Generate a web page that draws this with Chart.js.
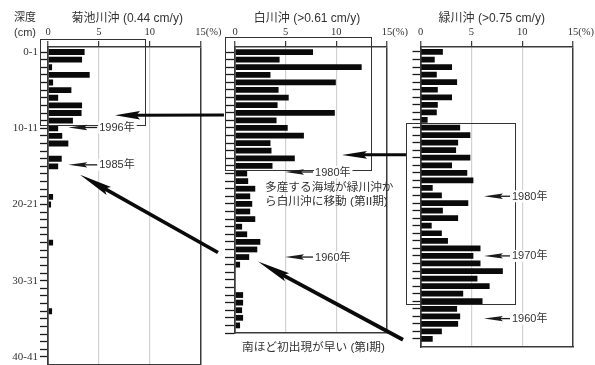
<!DOCTYPE html>
<html>
<head>
<meta charset="utf-8">
<script src="https://cdn.jsdelivr.net/npm/chart.js@4.4.0/dist/chart.umd.min.js"></script>
<style>
  html, body { margin: 0; padding: 0; background: #fff; }
  #wrap { position: relative; width: 595px; height: 365px; overflow: hidden; background: #fff; }
  #wrap canvas { position: absolute; left: 0; top: 0; }
</style>
</head>
<body>
<div id="wrap">
  <canvas id="c1" width="595" height="365"></canvas>
  <canvas id="c2" width="595" height="365"></canvas>
  <canvas id="c3" width="595" height="365"></canvas>
</div>
<script>
// ---- data: relative abundance (%) per 1 cm core slice, top (0-1 cm) downward ----
const siteTitles = ['菊池川沖 (0.44 cm/y)', '白川沖 (>0.61 cm/y)', '緑川沖 (>0.75 cm/y)'];
const depthTickLabels = ['0-1', '10-11', '20-21', '30-31', '40-41'];
const percentTicks = [0, 5, 10, 15];

const kikuchi = [
  3.6, 3.35, 0.4, 4.1, 0.5, 2.3, 1.0, 3.35, 3.3, 2.45,
  1.0, 1.4, 2.0, 0, 1.35, 1.0, 0, 0, 0, 0.5,
  0.3, 0, 0, 0, 0, 0.5, 0, 0, 0, 0,
  0, 0, 0, 0, 0.4, 0, 0, 0, 0, 0,
  0
];
const shirakawa = [
  7.7, 4.4, 12.5, 3.5, 9.95, 4.3, 5.3, 4.2, 9.85, 4.1,
  5.2, 6.8, 3.5, 3.6, 5.9, 3.7, 1.2, 1.3, 2.0, 1.5,
  1.7, 1.5, 2.0, 0.7, 1.2, 2.5, 2.2, 1.4, 0.5, 0,
  0, 0, 0.8, 0.8, 0.7, 0.8, 0.5, 0
];
const midorikawa = [
  2.2, 1.4, 3.1, 1.6, 3.6, 1.7, 3.1, 1.7, 1.6, 0.7,
  3.9, 4.9, 3.7, 3.5, 4.9, 3.1, 4.6, 5.2, 1.2, 2.1,
  4.7, 2.2, 3.7, 1.1, 2.1, 2.7, 5.9, 5.2, 5.9, 8.1,
  5.6, 6.8, 4.2, 6.1, 3.6, 3.9, 3.7, 2.1, 1.2
];
const siteValues = [kikuchi, shirakawa, midorikawa];

// dated horizons: panel index, depth (slice index), label
const horizons = [
  { panel: 0, row: 9.9,  label: '1996年' },
  { panel: 0, row: 14.8, label: '1985年' },
  { panel: 1, row: 15.8, label: '1980年' },
  { panel: 1, row: 27.0, label: '1960年' },
  { panel: 2, row: 19.1, label: '1980年' },
  { panel: 2, row: 27.0, label: '1970年' },
  { panel: 2, row: 35.3, label: '1960年' }
];

// ---- layout / styling ----
const SANS = '"Liberation Sans", "Noto Sans CJK JP", sans-serif';
const SERIF = '"Liberation Serif", "DejaVu Serif", serif';
const INK = '#333';
const W = 595, H = 365, TOP = 47;

const panelLayout = [
  { id: 'c1', left: 48,    right: 200.5, bottom: 365, axisWidth: 48, tickLen: 8,  yMin: -0.656, yMax: 41.05, titleDx: 3,  showDepth: true },
  { id: 'c2', left: 235,   right: 387,   bottom: 333, axisWidth: 10, tickLen: 10, yMin: -0.66,  yMax: 37,    titleDx: -4, showDepth: false },
  { id: 'c3', left: 420.5, right: 573,   bottom: 347, axisWidth: 8,  tickLen: 8,  yMin: -0.66,  yMax: 39.06, titleDx: -5, showDepth: false }
];

// horizon arrow extent in each panel (% units): tip and tail
const horizonArrow = [ { tip: 2.0, tail: 4.84 }, { tip: 4.94, tail: 7.7 }, { tip: 6.24, tail: 8.8 } ];

// highlighted intervals (panel, % range, slice range)
const boxes = [
  { panel: 0, x0: -0.8, x1: 9.55, r0: -1.7, r1: 9.6 },
  { panel: 1, x0: -1.0, x1: 13.4, r0: -2.0, r1: 15.5 },
  { panel: 2, x0: -1.43, x1: 9.3, r0: 9.4,  r1: 33.4 }
];

// arrows linking intervals between sites: [panel, %, slice]
const transfers = [
  { from: [1, -1.09, 8.3],  to: [0, 6.59, 8.3],   lw: 3.0, hl: 25, hw: 4.2 },
  { from: [2, -1.43, 13.6], to: [1, 10.56, 13.55], lw: 3.0, hl: 25, hw: 3.8 },
  { from: [1, -1.68, 26.4], to: [0, 3.15, 16.1],  lw: 3.6, hl: 33, hw: 4.6 },
  { from: [2, -1.72, 38.1], to: [1, 2.27, 27.6],  lw: 3.8, hl: 33, hw: 4.6 }
];

const notes = [
  { panel: 1, x: 2.96, row: 17.9,  text: '多産する海域が緑川沖か' },
  { panel: 1, x: 2.96, row: 19.75, text: 'ら白川沖に移動 (第II期)' },
  { panel: 1, x: 0.69, row: 38.98, text: '南ほど初出現が早い (第I期)' }
];

function drawArrow(ctx, x0, y0, x1, y1, lw, hl, hw) {
  const a = Math.atan2(y1 - y0, x1 - x0);
  const c = Math.cos(a), s = Math.sin(a);
  ctx.lineWidth = lw;
  ctx.lineCap = 'butt';
  ctx.beginPath();
  ctx.moveTo(x0, y0);
  ctx.lineTo(x1 - c * hl * 0.7, y1 - s * hl * 0.7);
  ctx.stroke();
  const bx = x1 - c * hl, by = y1 - s * hl;
  ctx.beginPath();
  ctx.moveTo(x1, y1);
  ctx.lineTo(bx - s * hw, by + c * hw);
  ctx.lineTo(x1 - c * hl * 0.85, y1 - s * hl * 0.85);
  ctx.lineTo(bx + s * hw, by - c * hw);
  ctx.closePath();
  ctx.fill();
}

const charts = [];

const overlay = {
  id: 'overlay',
  afterDraw(chart) {
    const ctx = chart.ctx;
    const ch = i => (i < charts.length ? charts[i] : chart);
    const X = (i, v) => ch(i).scales.x.getPixelForValue(v);
    const Y = (i, r) => ch(i).scales.y.getPixelForValue(r);
    ctx.save();

    // highlighted intervals
    ctx.strokeStyle = INK;
    ctx.lineWidth = 1;
    boxes.forEach(b => {
      const x0 = Math.round(X(b.panel, b.x0)) + 0.5, x1 = Math.round(X(b.panel, b.x1)) + 0.5;
      const y0 = Math.round(Y(b.panel, b.r0)) + 0.5, y1 = Math.round(Y(b.panel, b.r1)) + 0.5;
      ctx.strokeRect(x0, y0, x1 - x0, y1 - y0);
    });

    // dated horizons
    ctx.font = `11px ${SANS}`;
    ctx.textBaseline = 'middle';
    ctx.textAlign = 'left';
    horizons.forEach(h => {
      const a = horizonArrow[h.panel];
      const y = Y(h.panel, h.row), xt = X(h.panel, a.tip), xs = X(h.panel, a.tail);
      const w = ctx.measureText(h.label).width;
      ctx.fillStyle = '#fff';
      ctx.fillRect(xs + 1, y - 6, w + 3, 12);
      ctx.fillStyle = '#1a1a1a';
      ctx.strokeStyle = '#1a1a1a';
      drawArrow(ctx, xs, y, xt, y, 1.3, 19, 2.7);
      ctx.fillStyle = INK;
      ctx.fillText(h.label, xs + 2, y + 0.5);
    });

    // links between sites
    ctx.fillStyle = '#0a0a0a';
    ctx.strokeStyle = '#0a0a0a';
    transfers.forEach(t => {
      drawArrow(ctx, X(t.from[0], t.from[1]), Y(t.from[0], t.from[2]),
                X(t.to[0], t.to[1]), Y(t.to[0], t.to[2]), t.lw, t.hl, t.hw);
    });

    // notes
    ctx.fillStyle = INK;
    ctx.font = `11.7px ${SANS}`;
    notes.forEach(n => ctx.fillText(n.text, X(n.panel, n.x), Y(n.panel, n.row)));

    // titles and axis captions
    ctx.textAlign = 'center';
    ctx.font = `12px ${SANS}`;
    panelLayout.forEach((p, i) => {
      const ca = ch(i).chartArea;
      ctx.fillText(siteTitles[i], (ca.left + ca.right) / 2 + p.titleDx, 18.5);
    });
    ctx.font = `11px ${SANS}`;
    ctx.fillText('深度', 25, 18);
    ctx.fillText('(cm)', 25, 33);

    // unit after the last percent tick
    ctx.textAlign = 'left';
    ctx.font = `10.5px ${SERIF}`;
    panelLayout.forEach((p, i) => {
      const sx = ch(i).scales.x;
      const last = percentTicks[percentTicks.length - 1];
      const w = ctx.measureText(String(last)).width;
      ctx.fillText('(%)', sx.getPixelForValue(last) + w / 2, TOP - 6 - 2 - 6.3);
    });
    ctx.restore();
  }
};

function zeroPad(s) { s.paddingLeft = 0; s.paddingRight = 0; s.paddingTop = 0; s.paddingBottom = 0; }

panelLayout.forEach((p, i) => {
  const values = siteValues[i];
  const cfg = {
    type: 'bar',
    data: {
      datasets: [{
        data: values.map((v, k) => ({ x: v, y: k })),
        xAxisID: 'x', yAxisID: 'y',
        backgroundColor: '#0a0a0a',
        borderWidth: 0,
        barPercentage: 0.76,
        categoryPercentage: 1
      }]
    },
    options: {
      responsive: false,
      animation: false,
      indexAxis: 'y',
      layout: { padding: { left: p.left - p.axisWidth, right: W - p.right, top: 0, bottom: H - p.bottom } },
      plugins: { legend: { display: false }, tooltip: { enabled: false } },
      scales: {
        x: {
          type: 'linear', position: 'top', min: 0, max: 15,
          afterBuildTicks: s => { s.ticks = percentTicks.map(v => ({ value: v })); },
          afterFit: s => { s.height = TOP; zeroPad(s); },
          grid: {
            color: c => (c.tick && (c.tick.value === 0 || c.tick.value === 15)) ? '#3a3a3a' : '#d2d2d2',
            lineWidth: c => (c.tick && (c.tick.value === 0 || c.tick.value === 15)) ? 1.5 : 1.2,
            tickLength: 6, tickColor: '#3a3a3a', tickWidth: 1.2
          },
          border: { color: '#3a3a3a', width: 1.5 },
          ticks: { font: { family: SERIF, size: 10.5 }, color: INK, padding: 2, maxRotation: 0, autoSkip: false }
        },
        xb: {
          type: 'linear', position: 'bottom', min: 0, max: 15,
          afterFit: s => { s.height = 0; zeroPad(s); },
          grid: { display: false },
          ticks: { display: false },
          border: { display: true, color: '#3a3a3a', width: 1.5 }
        },
        y: {
          type: 'linear', position: 'left', reverse: true, offset: false,
          min: p.yMin, max: p.yMax,
          afterBuildTicks: s => { s.ticks = values.map((v, k) => ({ value: k })); },
          afterFit: s => { s.width = p.axisWidth; zeroPad(s); },
          grid: { drawOnChartArea: false, offset: false, tickLength: p.tickLen, tickColor: '#1a1a1a', tickWidth: 1.3 },
          border: { color: '#3a3a3a', width: 1.5 },
          ticks: {
            display: p.showDepth, autoSkip: false, padding: 2, color: INK,
            font: { family: SERIF, size: 11 },
            callback: v => (v % 10 === 0 ? depthTickLabels[v / 10] : '')
          }
        }
      }
    },
    plugins: i === panelLayout.length - 1 ? [overlay] : []
  };
  charts.push(new Chart(document.getElementById(p.id), cfg));
});
</script>
</body>
</html>
